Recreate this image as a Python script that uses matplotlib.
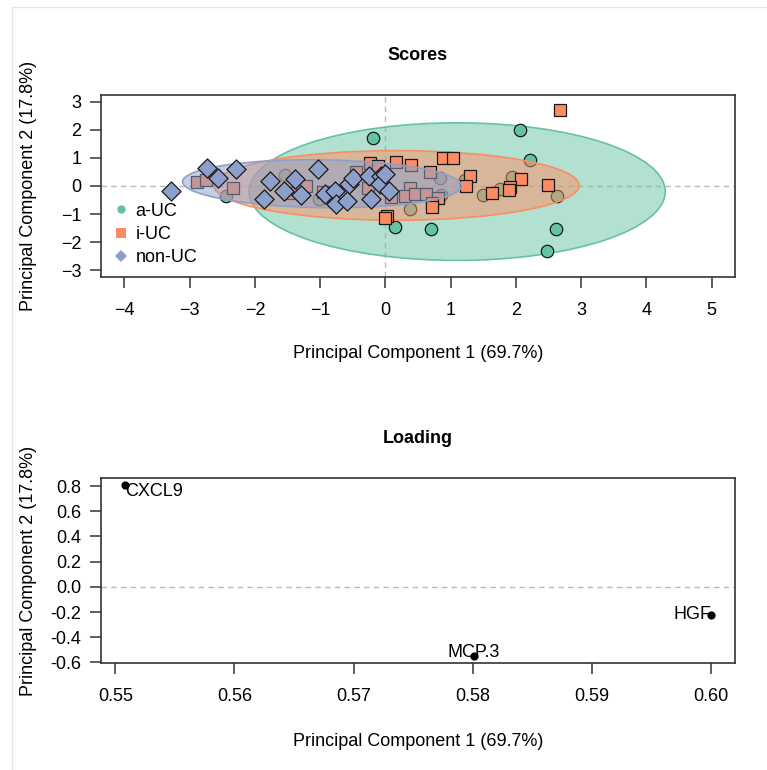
"""PCA scores and loading plots for a-UC / i-UC / non-UC groups."""

import matplotlib
matplotlib.use("Agg")
import matplotlib.pyplot as plt
from matplotlib.lines import Line2D
from matplotlib.patches import Ellipse
import numpy as np

plt.rcParams["font.family"] = ["Liberation Sans", "DejaVu Sans"]

# ---- scores (PC1, PC2) ----
auc_pc1 = [-0.19, 2.06, 2.21, 0.15, 0.70, 2.62, 2.48, -2.44, -1.54, -1.02,
           0.38, 0.84, 0.86, 1.22, 1.50, 1.76, 1.94, 2.63]
auc_pc2 = [1.70, 1.98, 0.91, -1.47, -1.53, -1.53, -2.31, -0.35, 0.40, -0.47,
           -0.82, 0.27, -0.33, 0.20, -0.32, -0.11, 0.32, -0.36]

iuc_pc1 = [2.67, -2.89, -2.75, -2.34, -1.47, -1.21, -0.95, -0.45, -0.23, -0.12,
           0.17, 0.39, 0.88, 1.03, 0.68, 1.30, 1.23, 1.64, 2.08, 1.91,
           1.90, 2.49, -0.27, 0.38, 0.08, 0.30, 0.45, 0.63, 0.81, 0.71,
           0.71, 0.03, -0.01]
iuc_pc2 = [2.72, 0.13, 0.23, -0.06, -0.24, 0.00, -0.22, 0.50, 0.82, 0.70,
           0.84, 0.75, 0.99, 1.01, 0.49, 0.37, 0.00, -0.26, 0.25, -0.03,
           -0.15, 0.02, -0.07, -0.06, -0.40, -0.37, -0.28, -0.28, -0.43, -0.59,
           -0.73, -1.06, -1.15]

nonuc_pc1 = [-3.29, -2.74, -2.56, -2.29, -1.77, -1.56, -1.86, -1.38, -1.29, -1.04,
             -0.92, -0.77, -0.75, -0.59, -0.56, -0.50, -0.25, -0.22, -0.06, -0.09,
             0.05, -0.01]
nonuc_pc2 = [-0.18, 0.65, 0.30, 0.59, 0.18, -0.18, -0.47, 0.24, -0.33, 0.59,
             -0.30, -0.18, -0.65, -0.53, 0.06, 0.30, 0.35, -0.47, 0.35, 0.06,
             -0.18, 0.41]

# group ellipses: centre x, centre y, semi-axis x, semi-axis y, angle (deg)
auc_ellipse = (1.10, -0.20, 3.19, 2.45, 0.0)
iuc_ellipse = (0.17, 0.02, 2.80, 1.24, 0.0)
nonuc_ellipse = (-0.97, 0.08, 2.14, 0.85, -2.3)

# ---- loadings ----
load_names = ["CXCL9", "MCP.3", "HGF"]
load_pc1 = [0.5508, 0.5801, 0.6000]
load_pc2 = [0.81, -0.55, -0.22]

groups = [
    ("a-UC", auc_pc1, auc_pc2, auc_ellipse, "#66C2A5", "o", 80),
    ("i-UC", iuc_pc1, iuc_pc2, iuc_ellipse, "#FC8D62", "s", 80),
    ("non-UC", nonuc_pc1, nonuc_pc2, nonuc_ellipse, "#8DA0CB", "D", 95),
]

fig = plt.figure(figsize=(7.67, 7.70), dpi=100)
ax1 = fig.add_axes([101 / 767, 1 - 277 / 770, 634 / 767, 182 / 770])
ax2 = fig.add_axes([101 / 767, 1 - 663 / 770, 634 / 767, 185 / 770])

# faint frame of the original screenshot
fig.add_artist(Line2D([12 / 767, 1], [1 - 7 / 770] * 2, transform=fig.transFigure,
                      color="#e6e6e6", lw=1))
fig.add_artist(Line2D([12 / 767] * 2, [0, 1 - 7 / 770], transform=fig.transFigure,
                      color="#e6e6e6", lw=1))

# each group: ellipse first, then its points on top
z = 2
for name, xs, ys, ell, col, mk, size in groups:
    cx, cy, a, b, ang = ell
    ax1.add_patch(Ellipse((cx, cy), 2 * a, 2 * b, angle=ang, facecolor=col,
                          alpha=0.5, edgecolor="none", zorder=z))
    ax1.add_patch(Ellipse((cx, cy), 2 * a, 2 * b, angle=ang, facecolor="none",
                          edgecolor=col, lw=1.2, zorder=z))
    ax1.scatter(xs, ys, s=size, marker=mk, c=col, edgecolors="#1a1a1a",
                linewidths=0.9, zorder=z + 1)
    z += 2

ax1.axhline(0, color="#bbbbbb", ls=(0, (4, 3)), lw=1, zorder=1)
ax1.axvline(0, color="#bbbbbb", ls=(0, (4, 3)), lw=1, zorder=1)
ax1.set_xlim(-4.36, 5.36)
ax1.set_ylim(-3.24, 3.24)
ax1.set_xticks(range(-4, 6))
ax1.set_yticks(range(-3, 4))
ax1.set_title("Scores", fontsize=13, fontweight="bold", pad=25)
ax1.set_xlabel("Principal Component 1 (69.7%)", fontsize=13, labelpad=19)
ax1.set_ylabel("Principal Component 2 (17.8%)", fontsize=13, va="center")

handles = [Line2D([], [], marker=mk, color=col, ls="none",
                  markersize={"o": 6, "s": 7, "D": 6.5}[mk], markeredgewidth=0)
           for name, xs, ys, ell, col, mk, size in groups]
ax1.legend(handles, [g[0] for g in groups], loc="lower left", frameon=False,
           fontsize=13, handletextpad=0.3, labelspacing=0.35,
           borderaxespad=0.2, handlelength=1.0, bbox_to_anchor=(0.0, 0.0))

ax2.scatter(load_pc1, load_pc2, s=24, c="black", zorder=3)
offsets = {"CXCL9": (0, -5, "left"), "MCP.3": (0, 3, "center"), "HGF": (0, 0, "right")}
for nm, x, y in zip(load_names, load_pc1, load_pc2):
    dx, dy, ha = offsets[nm]
    ax2.annotate(nm, (x, y), xytext=(dx, dy), textcoords="offset points",
                 ha=ha, va="center", fontsize=13)
ax2.axhline(0, color="#bbbbbb", ls=(0, (4, 3)), lw=1, zorder=1)
ax2.set_xlim(0.5488, 0.6020)
ax2.set_ylim(-0.604, 0.864)
ax2.set_xticks([0.55, 0.56, 0.57, 0.58, 0.59, 0.60])
ax2.set_xticklabels(["0.55", "0.56", "0.57", "0.58", "0.59", "0.60"])
yt = np.round(np.arange(-0.6, 0.81, 0.2), 1)
ax2.set_yticks(yt)
ax2.set_yticklabels(["%.1f" % v for v in yt])
ax2.set_title("Loading", fontsize=13, fontweight="bold", pad=25)
ax2.set_xlabel("Principal Component 1 (69.7%)", fontsize=13, labelpad=20)
ax2.set_ylabel("Principal Component 2 (17.8%)", fontsize=13, va="center")

for ax in (ax1, ax2):
    for sp in ax.spines.values():
        sp.set_color("#333333")
        sp.set_linewidth(1.2)
    ax.tick_params(direction="out", length=8, width=1.1, color="#333333",
                   labelsize=13)
    ax.tick_params(axis="x", pad=10)
    ax.tick_params(axis="y", pad=6)
    ax.yaxis.set_label_coords(-0.115, 0.5)

fig.savefig("out.png", dpi=100)
